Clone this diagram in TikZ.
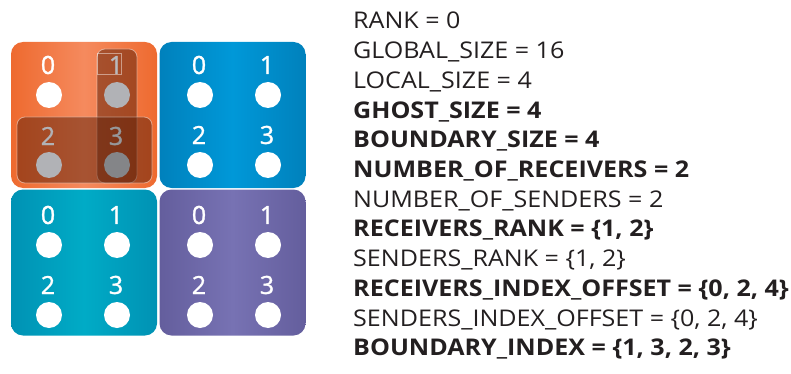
\documentclass[tikz,border=0pt]{standalone}
\usepackage{fontspec}
\setmainfont{Open Sans}
\newfontfamily\infofont{Open Sans}[FakeStretch=1.09]
\newfontfamily\digitfont{Open Sans}[FakeBold=1.2]
\definecolor{ink}{HTML}{231F20}
\definecolor{oedge}{HTML}{EE6A2F}
\definecolor{omid}{HTML}{F58A5E}
\definecolor{bedge}{HTML}{0081BC}
\definecolor{bmid}{HTML}{0098D8}
\definecolor{tedge}{HTML}{0092B4}
\definecolor{tmid}{HTML}{00ABC6}
\definecolor{pedge}{HTML}{645E9D}
\definecolor{pmid}{HTML}{7772B3}
\definecolor{shade}{HTML}{5A1E08}
\definecolor{ghostlt}{HTML}{B1B2B6}
\definecolor{ghostdk}{HTML}{848588}

\begin{document}
\begin{tikzpicture}[
  x=1pt, y=-1pt,
  tile/.style={rounded corners=12pt, minimum width=146pt, minimum height=146pt, inner sep=0pt},
  cell/.style={circle, fill=white, minimum size=26pt, inner sep=0pt},
  ghost/.style={circle, fill=ghostlt, minimum size=26pt, inner sep=0pt},
  idx/.style={text=white, inner sep=0pt, font=\digitfont\fontsize{25}{25}\selectfont},
  halo/.style={rounded corners=8pt, fill=shade, fill opacity=.5, draw=white, draw opacity=.45, line width=.8pt},
  info/.style={anchor=base west, inner sep=0pt, text=ink, font=\infofont\fontsize{23}{23}\selectfont},
  infob/.style={info, font=\infofont\fontsize{23}{23}\selectfont\bfseries},
]
\useasboundingbox (0,0) rectangle (791,374);

% ---------- four ranks ----------
\node[tile, left color=oedge, right color=oedge, middle color=omid] (r0) at (84,115)     {};
\node[tile, left color=bedge, right color=bedge, middle color=bmid] (r1) at (232.5,115)  {};
\node[tile, left color=tedge, right color=tedge, middle color=tmid] (r2) at (84,262.5)   {};
\node[tile, left color=pedge, right color=pedge, middle color=pmid] (r3) at (232.5,262.5) {};

% ---------- local cells ----------
\node[cell] (p0-0) at (49,95) {};
\node[idx]  (n0-0) at (48,65) {0};
\foreach \r/\cx/\cy in {1/200/95, 2/49/245, 3/200/245}
  \foreach \i/\dx/\dy in {0/0/0, 1/68/0, 2/0/70, 3/68/70} {
    \node[cell] (p\r-\i) at (\cx+\dx,\cy+\dy) {};
    \node[idx]  (n\r-\i) at (\cx+\dx-1,\cy+\dy-30) {\i};
  }

% ---------- boundary of rank 0 ----------
\draw[halo] (97,49) rectangle (137,183);
\draw[halo] (17,117) rectangle (152,183);
\draw[white, opacity=.45, line width=.8pt] (97,53) rectangle (121,74);

\node[ghost]               (p0-1) at (117,95)  {};
\node[ghost]               (p0-2) at (49,165)  {};
\node[ghost, fill=ghostdk] (p0-3) at (117,165) {};
\node[idx, text=ghostlt!90!white] (n0-1) at (116,65)  {1};
\node[idx, text=ghostlt]          (n0-2) at (48,136)  {2};
\node[idx, text=ghostdk!85!white] (n0-3) at (116,136) {3};

% ---------- parameters ----------
\node[info]  (t1)  at (353,29)    {RANK = 0};
\node[info]  (t2)  at (353,58.7)  {GLOBAL\_SIZE = 16};
\node[info]  (t3)  at (353,88.4)  {LOCAL\_SIZE = 4};
\node[infob] (t4)  at (353,118.1) {GHOST\_SIZE = 4};
\node[infob] (t5)  at (353,147.8) {BOUNDARY\_SIZE = 4};
\node[infob] (t6)  at (353,177.5) {NUMBER\_OF\_RECEIVERS = 2};
\node[info]  (t7)  at (353,207.2) {NUMBER\_OF\_SENDERS = 2};
\node[infob] (t8)  at (353,236.9) {RECEIVERS\_RANK = \{1, 2\}};
\node[info]  (t9)  at (353,266.6) {SENDERS\_RANK = \{1, 2\}};
\node[infob] (t10) at (353,296.3) {RECEIVERS\_INDEX\_OFFSET = \{0, 2, 4\}};
\node[info]  (t11) at (353,326)   {SENDERS\_INDEX\_OFFSET = \{0, 2, 4\}};
\node[infob] (t12) at (353,355.7) {BOUNDARY\_INDEX = \{1, 3, 2, 3\}};

\end{tikzpicture}
\end{document}
